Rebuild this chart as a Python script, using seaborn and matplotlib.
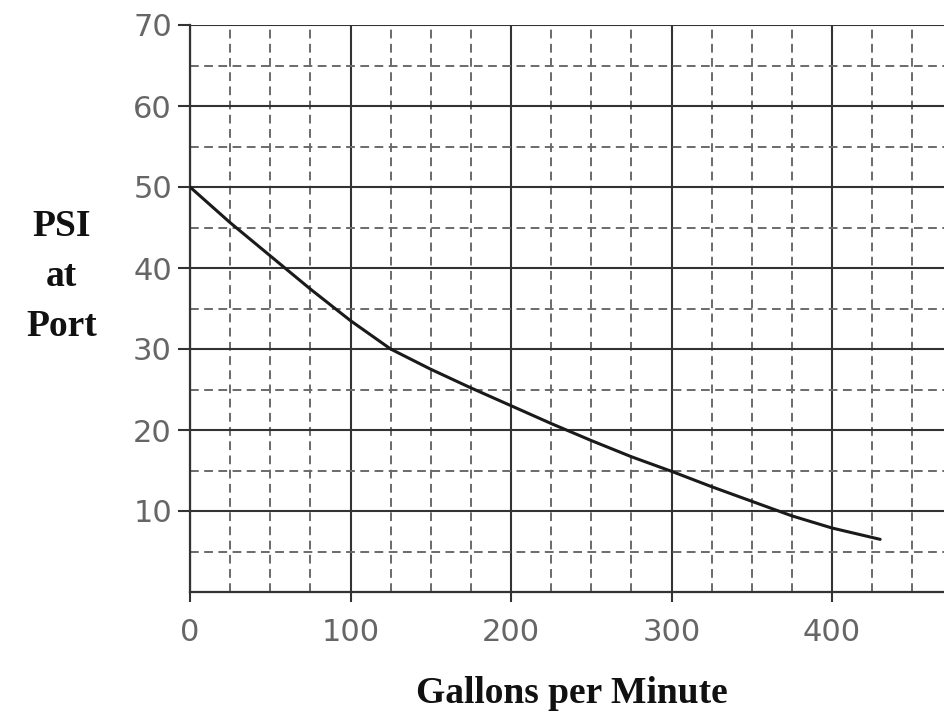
import matplotlib
matplotlib.use("Agg")
import matplotlib.pyplot as plt
import seaborn as sns
from matplotlib.ticker import MultipleLocator

sns.set_theme(style="white")
plt.rcParams['font.family'] = ['DejaVu Sans']

# debit (GPM) et pression
gpm = [0, 25, 50, 75, 100, 125, 150, 175, 200, 225, 250, 275, 300, 325, 350, 375, 400, 430]
psi = [50, 45.6, 41.5, 37.4, 33.5, 30.0, 27.5, 25.2, 23.0, 20.8, 18.7, 16.7, 14.9, 13.0, 11.2, 9.4, 7.9, 6.5]

x_ticks = [0, 100, 200, 300, 400]
y_ticks = [10, 20, 30, 40, 50, 60, 70]
y_tick_labels = ["10", "20", "30", "40", "50", "60", "70"]

W, H = 944, 719
fig = plt.figure(figsize=(W / 100, H / 100), dpi=100)
ax = fig.add_axes([190 / W, 1 - 592 / H, (W - 190) / W, 567 / H])

sns.lineplot(x=gpm, y=psi, ax=ax, color="#1a1a1a", linewidth=2.2, zorder=5)

ax.set_xlim(0, (W - 190) / 1.605)
ax.set_ylim(0, 70)

ax.set_xticks(x_ticks)
ax.set_yticks(y_ticks)
ax.set_yticklabels(y_tick_labels)
ax.xaxis.set_minor_locator(MultipleLocator(25))
ax.yaxis.set_minor_locator(MultipleLocator(5))

# grille : traits pleins (majeurs) et tirets (mineurs)
ax.grid(which="major", color="#333333", linewidth=1.5, linestyle="-")
ax.grid(which="minor", color="#6a6a6a", linewidth=1.4, linestyle=(0, (4.5, 2.8)))
ax.set_axisbelow(True)

for side in ["top", "right"]:
    ax.spines[side].set_visible(False)
for side in ["left", "bottom"]:
    ax.spines[side].set_color("#333333")
    ax.spines[side].set_linewidth(1.6)

ax.tick_params(axis="y", which="major", direction="out", length=9, width=1.5,
               color="#333333", pad=4, labelsize=22, labelcolor="#666666", left=True)
ax.tick_params(axis="x", which="major", direction="out", length=7, width=1.5,
               color="#333333", pad=12, labelsize=22, labelcolor="#666666", bottom=True)
ax.tick_params(which="minor", length=0)

ax.set_xlabel("Gallons per Minute", fontsize=27, fontweight="bold",
              family=["Liberation Serif", "DejaVu Serif"], color="#111111")
ax.xaxis.set_label_coords(0.507, -0.148)
ax.set_ylabel("PSI\nat\nPort", fontsize=27, fontweight="bold", rotation=0,
              family=["Liberation Serif", "DejaVu Serif"], color="#111111",
              linespacing=1.55, ha="center", va="center")
ax.yaxis.set_label_coords(-0.17, 0.556)

fig.savefig("out.png", dpi=100)
